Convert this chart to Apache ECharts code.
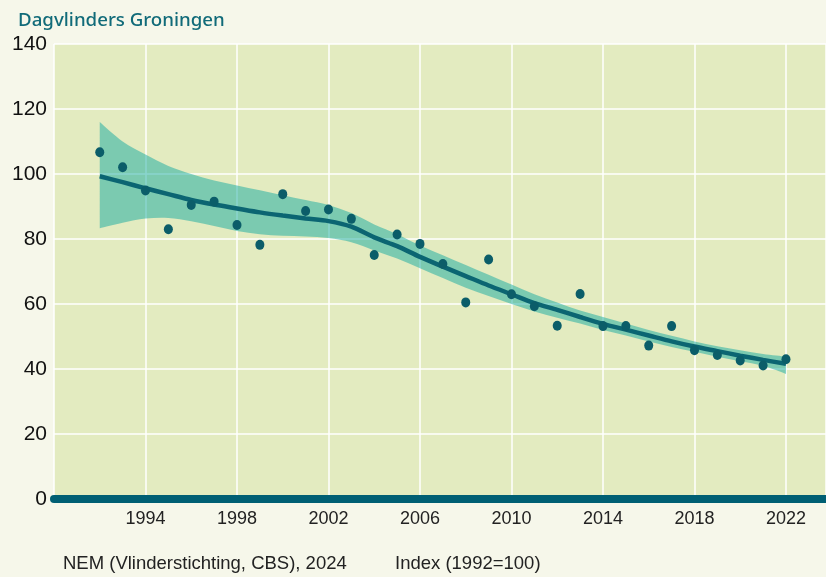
<!DOCTYPE html>
<html>
<head>
<meta charset="utf-8">
<script src="https://cdn.jsdelivr.net/npm/echarts@6/dist/echarts.min.js"></script>
<style>
  html, body { margin: 0; padding: 0; background: #f6f7ea; }
  #main { width: 826px; height: 577px; }
</style>
</head>
<body>
<div id="main"></div>
<script>
// jaren en indexwaarden (1992 = 100)
var years = [1992, 1993, 1994, 1995, 1996, 1997, 1998, 1999, 2000, 2001, 2002,
  2003, 2004, 2005, 2006, 2007, 2008, 2009, 2010, 2011, 2012,
  2013, 2014, 2015, 2016, 2017, 2018, 2019, 2020, 2021, 2022];
var observed = [106.7, 102.1, 94.9, 83, 90.5, 91.5, 84.3, 78.2, 93.8, 88.6, 89.1,
  86.2, 75.1, 81.4, 78.5, 72.3, 60.5, 73.7, 63, 59.3, 53.3,
  63.1, 53.2, 53.2, 47.2, 53.2, 45.8, 44.3, 42.6, 41.1, 43];
var trend = [99.3, 97.5, 95.6, 93.8, 92, 90.6, 89.4, 88.2, 87.2, 86.3, 85.5,
  83.8, 80.5, 77.8, 74.5, 71.5, 68.6, 65.7, 63, 60.3, 58.2,
  56, 53.9, 52.1, 50.3, 48.5, 46.9, 45.5, 44.1, 42.8, 41.6];
var upper = [116, 110, 106, 102.5, 100, 98, 96.5, 95, 93.5, 92, 90.5,
  88, 84.5, 81.5, 78, 75, 72, 69, 66, 63, 60.5,
  58, 56, 54, 52, 50.2, 48.5, 47, 45.8, 44.6, 43.8];
var lower = [83.3, 85, 86.3, 86.5, 85.5, 84, 82.5, 81.5, 81, 80.8, 80.3,
  79, 76.5, 74, 71, 68, 65, 62.5, 60, 57.7, 55.8,
  54, 52, 50.3, 48.5, 46.8, 45.3, 43.8, 42.4, 41, 38.5];
var yTicks = [0, 20, 40, 60, 80, 100, 120, 140];

var labelFont = '"Liberation Sans", Arial, sans-serif';

function pairs(vals) {
  return years.map(function (y, i) { return [y, vals[i]]; });
}

// vloeiende rand door de punten (Catmull-Rom -> bezier), alleen de rand, geen hoeken
function curveTo(pts) {
  var d = '';
  for (var i = 0; i < pts.length - 1; i++) {
    var p0 = pts[Math.max(i - 1, 0)], p1 = pts[i], p2 = pts[i + 1], p3 = pts[Math.min(i + 2, pts.length - 1)];
    var c1x = p1[0] + (p2[0] - p0[0]) / 6, c1y = p1[1] + (p2[1] - p0[1]) / 6;
    var c2x = p2[0] - (p3[0] - p1[0]) / 6, c2y = p2[1] - (p3[1] - p1[1]) / 6;
    d += ' C' + c1x + ' ' + c1y + ' ' + c2x + ' ' + c2y + ' ' + p2[0] + ' ' + p2[1];
  }
  return d;
}

function renderBand(params, api) {
  var top = [], bottom = [];
  for (var i = 0; i < years.length; i++) top.push(api.coord([years[i], upper[i]]));
  for (var j = years.length - 1; j >= 0; j--) bottom.push(api.coord([years[j], lower[j]]));
  var d = 'M' + top[0][0] + ' ' + top[0][1] + curveTo(top) +
    ' L' + bottom[0][0] + ' ' + bottom[0][1] + curveTo(bottom) + ' Z';
  return {
    type: 'path',
    shape: { pathData: d, layout: 'center' },
    style: { fill: 'rgba(20,170,160,0.5)' },
    silent: true
  };
}

var myChart = echarts.init(document.getElementById('main'));

var option = {
  backgroundColor: '#f6f7ea',
  animation: false,
  title: [
    {
      text: 'Dagvlinders Groningen',
      left: 13, top: 6,
      textStyle: { color: '#116b79', fontSize: 18.7, fontWeight: 500, fontFamily: '"Noto Sans", sans-serif' }
    },
    {
      text: 'NEM (Vlinderstichting, CBS), 2024',
      left: 58, top: 549,
      textStyle: { color: '#222', fontSize: 18.5, fontWeight: 'normal', fontFamily: labelFont }
    },
    {
      text: 'Index (1992=100)',
      left: 390, top: 549,
      textStyle: { color: '#222', fontSize: 18.5, fontWeight: 'normal', fontFamily: labelFont }
    }
  ],
  grid: {
    left: 54, right: 0, top: 44, bottom: 78,
    show: true, backgroundColor: '#e3ebc0', borderWidth: 0
  },
  xAxis: {
    type: 'value',
    min: 1990, max: 2023.75, interval: 4,
    axisLine: { show: true, lineStyle: { color: '#005f73', width: 8 } },
    axisTick: { show: false },
    axisLabel: {
      showMinLabel: false, showMaxLabel: false, margin: 11,
      color: '#222', fontSize: 18, fontFamily: labelFont,
      formatter: function (v) { return (v === 1990 || v % 4 !== 2) ? '' : String(v); }
    },
    splitLine: { show: true, lineStyle: { color: '#ffffff', width: 1.5 } }
  },
  yAxis: {
    type: 'value',
    min: yTicks[0], max: yTicks[yTicks.length - 1], interval: 20,
    axisLine: { show: false },
    axisTick: { show: false },
    axisLabel: { margin: 7, color: '#111', fontSize: 21, fontFamily: labelFont },
    splitLine: { show: true, lineStyle: { color: '#ffffff', width: 1.5 } }
  },
  series: [
    {
      name: 'band',
      type: 'custom',
      data: [0],
      renderItem: renderBand,
      z: 2
    },
    {
      name: 'trend',
      type: 'line',
      data: pairs(trend),
      smooth: 0.3,
      symbol: 'none',
      lineStyle: { color: '#0b6572', width: 4.5 },
      z: 3
    },
    {
      name: 'index',
      type: 'scatter',
      data: pairs(observed),
      symbolSize: [9, 10],
      itemStyle: { color: '#0b5d69', opacity: 1 },
      z: 4
    }
  ]
};

myChart.setOption(option);
</script>
</body>
</html>
